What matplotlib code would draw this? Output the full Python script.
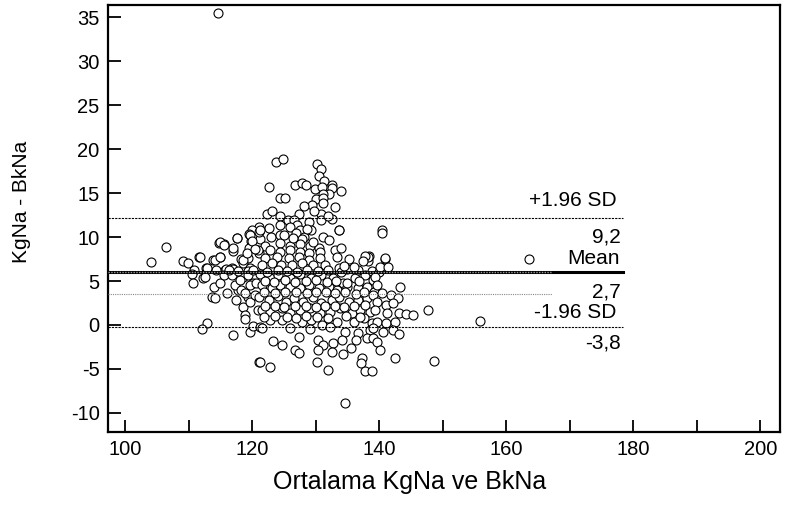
import matplotlib
matplotlib.use("Agg")
import matplotlib.pyplot as plt
from matplotlib.ticker import MultipleLocator

plt.rcParams['font.family'] = ['Liberation Sans', 'DejaVu Sans']
plt.rcParams['axes.unicode_minus'] = False

# Bland-Altman: mean of two methods vs difference
avg_na = [
    114.6,
    123.8, 124.9, 130.2, 130.9, 130.5, 131.3, 122.7, 126.8, 127.8, 128.5, 129.9, 131.0, 132.6, 132.6, 134.0,
    132.1, 131.2, 124.4, 125.2, 130.1, 131.2, 131.1, 133.1, 129.4, 130.9, 122.3, 124.4, 125.7, 127.3, 130.9,
    132.6, 126.6, 128.9, 127.0, 133.7, 121.1, 120.0, 122.6, 124.4, 126.0, 127.6, 129.2, 126.9, 128.1, 122.9,
    124.4, 127.9, 131.1, 132.1, 121.3, 122.0, 124.4, 126.0, 127.6, 129.1, 130.5, 133.1, 134.0, 122.8, 124.4,
    125.9, 127.5, 128.9, 130.7, 121.0, 122.0, 123.9, 125.8, 127.4, 129.0, 130.7, 133.4, 135.3, 138.3, 138.4,
    121.6, 123.1, 124.6, 126.2, 127.8, 129.6, 131.5, 133.6, 135.0,
    128.2, 129.8, 123.1, 126.5, 128.7, 125.0, 129.6, 132.0,
    104.1, 106.5, 109.1, 109.9, 111.6, 110.9, 112.8, 113.9, 114.9, 114.7, 115.5, 117.6, 117.0, 119.5, 119.8,
    119.5, 121.1, 120.9, 118.2, 119.3, 116.8, 115.7, 114.3, 118.6, 119.7,
    111.8, 112.9, 112.3, 113.7, 114.1, 115.0, 115.0, 115.6, 115.9, 117.0, 117.6, 117.0, 118.6, 119.2, 119.7,
    120.0, 120.5, 121.3, 119.4, 118.6, 120.2, 117.8, 119.4, 118.6,
    110.5, 110.7, 112.6, 114.0, 114.2, 115.0, 116.0, 115.6, 116.8, 117.3, 117.5, 118.3, 118.8, 118.1, 119.4,
    119.6, 119.7, 120.4, 120.6, 120.9, 118.9, 118.8, 112.9, 112.1, 117.0, 119.6, 120.1, 121.0, 121.3,
    121.3, 122.8, 124.1, 126.0, 127.6, 129.3, 130.9, 132.8, 134.3, 136.2, 137.8, 139.0,
    121.6, 123.1, 124.4, 126.0, 127.6, 129.0, 130.5, 132.1, 133.4, 135.0, 136.6, 138.1, 139.2,
    121.1, 122.7, 124.1, 125.4, 126.6, 128.0, 129.6, 130.9, 132.5, 133.7, 135.3, 136.7, 138.0,
    121.6, 122.8, 124.7, 126.0, 127.6, 129.1, 130.7, 132.3, 133.9, 135.7, 137.0, 138.6,
    122.8, 124.7, 127.8, 129.3, 131.0, 133.4, 136.1, 137.6, 138.9,
    121.6, 126.0, 129.1, 132.3, 134.6, 136.6, 138.6,
    122.0, 123.5, 125.2, 126.8, 128.4, 130.0, 131.7, 133.2, 135.0, 136.8,
    121.9, 123.6, 125.2, 126.9, 128.6, 130.0, 131.6, 133.0, 134.6, 136.3, 137.6,
    122.0, 123.6, 125.0, 126.8, 128.4, 130.0, 131.5, 133.0, 134.5, 136.1, 137.8,
    121.9, 123.6, 125.5, 126.9, 128.5, 130.2, 132.0, 134.8, 136.9,
    116.3, 117.8, 120.2, 122.3, 124.0, 125.5, 127.0, 128.7, 130.3, 132.0, 134.0, 136.6, 138.9, 140.0,
    123.3, 124.7, 127.4, 126.8, 127.4, 130.4, 131.2, 130.4, 132.8, 134.1, 132.5, 134.3, 135.6, 136.4, 138.0,
    137.3, 137.1, 121.3, 122.8, 130.2, 132.0, 137.8, 134.6,
    139.4, 139.7, 143.3, 140.5, 139.0, 141.9, 142.9, 139.7, 141.0, 142.1, 139.4, 141.3, 143.1, 144.2, 145.3,
    147.7, 139.7, 141.0, 142.5, 139.0, 140.6, 142.2, 143.1, 139.0, 139.7, 140.2, 142.5, 148.7, 138.9, 155.9,
    140.4, 140.4, 140.9, 140.2, 141.4, 138.3, 163.6, 133.7, 137.7, 137.4, 140.9, 136.1, 134.4,
]
diff_na = [
    35.5,
    18.6, 18.9, 18.3, 17.7, 16.9, 16.4, 15.7, 15.9, 16.1, 15.9, 15.5, 15.7, 15.9, 15.6, 15.3,
    14.9, 14.9, 14.4, 14.5, 14.3, 14.5, 13.9, 13.4, 13.6, 12.6, 12.6, 12.4, 12.0, 12.6, 12.0,
    12.1, 12.0, 11.7, 11.4, 10.8, 11.1, 10.8, 11.0, 11.4, 11.1, 10.8, 10.8, 10.5, 10.0, 10.0,
    10.2, 9.8, 10.0, 9.7, 9.8, 9.0, 9.3, 9.0, 9.2, 9.0, 8.8, 8.5, 8.7, 8.5, 8.3,
    8.5, 8.3, 8.2, 8.3, 8.2, 7.6, 7.7, 7.6, 7.7, 7.4, 7.6, 7.7, 7.5, 7.3, 7.9,
    6.8, 7.0, 6.8, 6.8, 7.0, 6.8, 6.8, 6.5, 6.4,
    13.5, 13.0, 13.0, 9.9, 10.9, 10.2, 9.4, 12.4,
    7.2, 8.9, 7.3, 7.0, 7.7, 6.3, 6.5, 7.4, 7.7, 9.3, 9.2, 9.9, 8.4, 10.4, 9.5,
    8.7, 10.6, 8.5, 7.5, 7.6, 6.5, 6.3, 6.3, 7.0, 6.5,
    7.7, 6.5, 5.3, 3.2, 7.4, 9.4, 7.7, 9.1, 6.4, 8.8, 9.9, 6.4, 7.4, 8.2, 10.2,
    9.5, 8.6, 10.8, 6.1, 5.5, 4.8, 4.0, 3.2, 2.0,
    5.8, 4.8, 5.5, 4.3, 3.1, 4.8, 3.6, 5.7, 5.7, 4.5, 2.8, 4.0, 3.6, 5.1, 5.7,
    4.5, 2.6, 3.4, 4.8, 1.7, 1.1, 0.7, 0.2, -0.5, -1.1, -0.8, -0.1, -4.2, -0.2,
    5.8, 5.3, 5.7, 5.3, 5.8, 5.3, 5.7, 5.3, 4.8, 5.3, 5.7, 5.1,
    4.5, 4.2, 4.5, 4.3, 4.2, 4.5, 4.2, 4.3, 4.0, 4.3, 4.2, 4.3, 3.7,
    3.2, 2.8, 3.3, 2.6, 3.1, 2.6, 3.2, 2.5, 2.8, 3.2, 2.6, 2.8, 3.1,
    1.7, 1.5, 1.9, 1.4, 1.7, 1.9, 1.4, 1.5, 1.9, 1.4, 1.7, 1.5,
    0.6, 0.6, 0.3, 0.6, 0.0, 0.3, 0.3, 0.8, 0.2,
    -0.3, -0.3, -0.5, -0.2, -0.8, -0.9, -0.6,
    5.0, 4.9, 5.1, 4.9, 5.0, 5.1, 4.9, 5.0, 4.8, 5.0,
    3.7, 3.6, 3.8, 3.7, 3.6, 3.8, 3.7, 3.6, 3.7, 3.5, 3.8,
    2.1, 2.2, 2.0, 2.1, 2.2, 2.0, 2.1, 2.2, 2.0, 2.1, 2.3,
    0.9, 1.0, 0.9, 0.8, 1.0, 0.9, 0.8, 1.0, 0.9,
    6.2, 6.1, 6.2, 6.0, 6.2, 6.1, 6.0, 6.2, 6.1, 6.2, 6.0, 6.2, 6.1, 6.0,
    -1.8, -2.3, -1.4, -2.8, -3.2, -1.7, -2.3, -2.8, -2.0, -1.7, -3.1, -3.3, -2.6, -1.7, -1.5,
    -3.8, -4.3, -4.2, -4.8, -4.2, -5.1, -5.2, -8.9,
    5.4, 4.5, 4.3, 3.6, 3.4, 3.4, 3.1, 2.6, 2.3, 2.5, 1.7, 1.4, 1.4, 1.2, 1.1,
    1.7, 0.3, 0.2, 0.3, -0.3, -0.8, -0.6, -1.0, -1.5, -1.9, -2.8, -3.8, -4.1, -5.2, 0.5,
    10.8, 10.5, 7.5, 6.6, 6.6, 7.7, 7.5, 10.8, 7.9, 7.3, 7.6, 6.6, 6.7,
]

mean_diff = 6.0
upper_loa = 12.2
lower_loa = -0.2
mid_ref = 3.5
line_end = 178.4
short_end = 167.2

labels_text = ["+1.96 SD", "9,2", "Mean", "2,7", "-1.96 SD", "-3,8"]
labels_y = [14.2, 10.0, 7.6, 3.75, 1.36, -2.05]
labels_x = [177.3, 178.0, 177.8, 178.0, 177.3, 178.0]

fig = plt.figure(figsize=(7.86, 5.12), dpi=100)
ax = fig.add_axes([0.1374, 0.156, 0.855, 0.834])

ax.scatter(avg_na, diff_na, s=42, facecolors='white', edgecolors='black',
           linewidths=0.8, zorder=2)

xmin = 97.3
ax.plot([xmin, line_end], [mean_diff, mean_diff], color='black', lw=2.2, zorder=3)
ax.plot([xmin, short_end], [mean_diff, mean_diff], color='#9a9a9a', lw=1.0,
        linestyle=(0, (1, 1)), zorder=4)
ax.plot([xmin, line_end], [upper_loa, upper_loa], color='black', lw=0.8,
        linestyle=(0, (2, 1)), zorder=3)
ax.plot([xmin, line_end], [lower_loa, lower_loa], color='black', lw=0.8,
        linestyle=(0, (2, 1)), zorder=3)
ax.plot([xmin, short_end], [mid_ref, mid_ref], color='#888888', lw=0.8,
        linestyle=(0, (1, 1)), zorder=3)

for t, xv, yv in zip(labels_text, labels_x, labels_y):
    ax.text(xv, yv, t, ha='right', va='center', fontsize=15, zorder=5)

ax.set_xlim(xmin, 203.1)
ax.set_ylim(-12.2, 36.4)
ax.set_xticks(range(100, 201, 20))
ax.xaxis.set_minor_locator(MultipleLocator(10))
ax.set_yticks(range(-10, 36, 5))
ax.tick_params(axis='both', which='both', direction='in', length=9, width=1.3,
               labelsize=14.5, pad=6)
for sp in ax.spines.values():
    sp.set_linewidth(1.6)

ax.set_xlabel('Ortalama KgNa ve BkNa', fontsize=18)
ax.xaxis.set_label_coords(0.449, -0.088)
ax.set_ylabel('KgNa - BkNa', fontsize=15)
ax.yaxis.set_label_coords(-0.115, 0.539)

fig.savefig('out.png', dpi=100)
